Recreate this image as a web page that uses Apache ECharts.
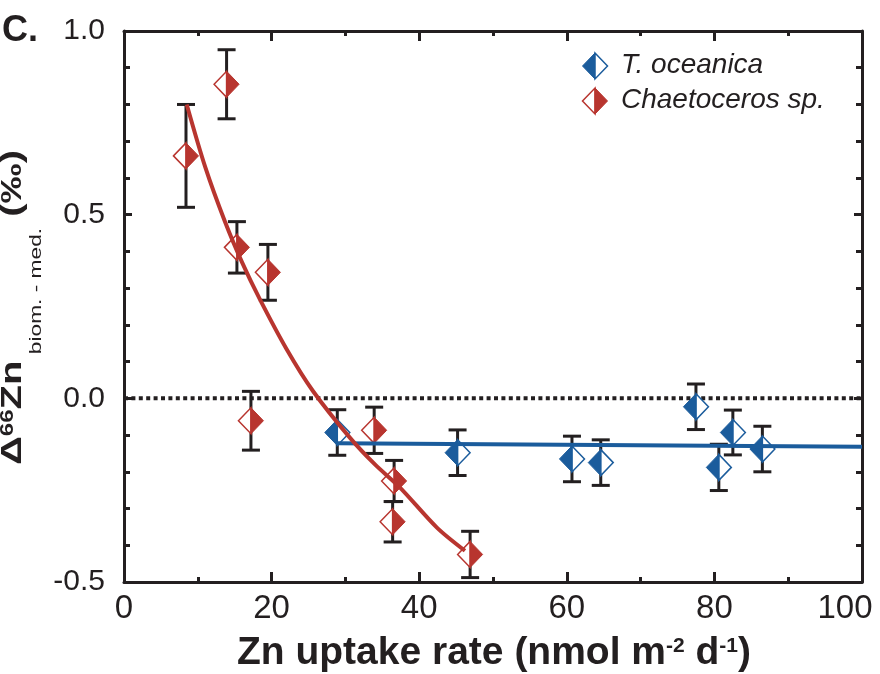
<!DOCTYPE html>
<html><head><meta charset="utf-8">
<script src="https://cdn.jsdelivr.net/npm/echarts@6/dist/echarts.min.js"></script>
<style>html,body{margin:0;padding:0;background:#fff}#c{width:880px;height:674px}</style>
</head><body><div id="c"></div><script>
// ---- data ----
const tOceanicaX   = [28.9, 45.2, 60.7, 64.6, 77.5, 80.6, 82.5, 86.5];
const tOceanicaY   = [-0.093, -0.148, -0.165, -0.175, -0.023, -0.188, -0.093, -0.138];
const tOceanicaErr = [0.062, 0.062, 0.062, 0.062, 0.062, 0.063, 0.061, 0.062];

const chaetX   = [8.4, 13.9, 15.3, 17.2, 19.5, 33.9, 36.6, 36.4, 46.9];
const chaetY   = [0.66, 0.855, 0.411, -0.061, 0.343, -0.087, -0.225, -0.336, -0.425];
const chaetErr = [0.14, 0.094, 0.07, 0.08, 0.076, 0.063, 0.056, 0.055, 0.063];

const chaetFitX = [8.5, 11.0, 13.7, 16.0, 18.4, 22.0, 25.6, 30.6, 34.0, 37.4, 42.4, 46.2];
const chaetFitY = [0.80, 0.63, 0.48, 0.37, 0.27, 0.135, 0.02, -0.107, -0.18, -0.243, -0.352, -0.415];
const tOceanicaFitX = [28.9, 100];
const tOceanicaFitY = [-0.122, -0.132];
const zeroLineX = [0, 100];
const zeroLineY = [0, 0];

const xTicks = [0, 20, 40, 60, 80, 100];
const yTicks = [-0.5, 0.0, 0.5, 1.0];
const seriesNames = ['T. oceanica', 'Chaetoceros sp.'];
const xTitle = '{m|Zn uptake rate (nmol m}{s|-2}{m| d}{s|-1}{m|)}';
const yTitleParts = ['Δ', '66', 'Zn', ' biom. - med.', ' (‰)'];
const panelLabel = 'C.';

// ---- style ----
const INK = '#231f20', BLUE = '#1b5c9c', RED = '#b8352f';
const FAMILY = 'Liberation Sans';
const SANS = '"Liberation Sans", Arial, Helvetica, sans-serif';

const zip = (a, b) => a.map((v, i) => [v, b[i]]);

// y-axis title layout: bold main text, superscript "66", subscript "biom. - med."
const partStyle = [
  { size: 30, weight: 'bold', dy: -10 },
  { size: 18, weight: 'bold', dy: -14.6 },
  { size: 30, weight: 'bold', dy: -10 },
  { size: 17, weight: 'normal', dy: 13.3 },
  { size: 30, weight: 'bold', dy: -10 }
];
const mctx = document.createElement('canvas').getContext('2d');
function textW(t, s) { mctx.font = s.weight + ' ' + s.size + 'px "' + FAMILY + '"'; return mctx.measureText(t).width; }
const partW = yTitleParts.map((t, i) => textW(t, partStyle[i]));
const totalW = partW.reduce((a, b) => a + b, 0);
const yTitleLength = 315;            // length of the title in the reference (stretched)
let acc = -totalW / 2;
const yTitleChildren = yTitleParts.map((t, i) => {
  const s = partStyle[i];
  const el = { type: 'text', x: acc, y: s.dy,
    style: { text: t, fontFamily: SANS, fontSize: s.size, fontWeight: s.weight, fill: INK, align: 'left', verticalAlign: 'middle' } };
  acc += partW[i];
  return el;
});

function diamondSeries(name, xs, ys, color, filledLeft) {
  return {
    type: 'custom', name, z: 4, xAxisIndex: 0, yAxisIndex: 0,
    encode: { x: 0, y: 1 },
    data: zip(xs, ys),
    renderItem: function (params, api) {
      const p = api.coord([api.value(0), api.value(1)]);
      const w = 12.5, h = 13;
      const left = [[p[0] - w, p[1]], [p[0], p[1] - h], [p[0], p[1] + h]];
      const right = [[p[0], p[1] - h], [p[0] + w, p[1]], [p[0], p[1] + h]];
      const filled = filledLeft ? left : right, open = filledLeft ? right : left;
      return { type: 'group', children: [
        { type: 'polygon', shape: { points: open }, style: { fill: '#fff', stroke: color, lineWidth: 1.5 } },
        { type: 'polygon', shape: { points: filled }, style: { fill: color, stroke: color, lineWidth: 1 } }
      ]};
    }
  };
}

function errorSeries(xs, ys, es) {
  return {
    type: 'custom', z: 2, xAxisIndex: 0, yAxisIndex: 0, silent: true,
    encode: { x: 0, y: [1, 2] },
    data: xs.map((x, i) => [x, ys[i] - es[i], ys[i] + es[i]]),
    renderItem: function (params, api) {
      const lo = api.coord([api.value(0), api.value(1)]);
      const hi = api.coord([api.value(0), api.value(2)]);
      const c = 9;
      const st = { stroke: INK, lineWidth: 3 };
      return { type: 'group', children: [
        { type: 'line', shape: { x1: lo[0], y1: lo[1], x2: hi[0], y2: hi[1] }, style: st },
        { type: 'line', shape: { x1: lo[0] - c, y1: lo[1], x2: lo[0] + c, y2: lo[1] }, style: st },
        { type: 'line', shape: { x1: hi[0] - c, y1: hi[1], x2: hi[0] + c, y2: hi[1] }, style: st }
      ]};
    }
  };
}

const axisLineCfg = { show: true, onZero: false, lineStyle: { color: INK, width: 3 } };

function xAx(pos, showLabel) {
  return {
    type: 'value', position: pos, min: 0, max: 100, interval: 20,
    axisLine: axisLineCfg,
    axisTick: { show: true, inside: true, length: 10, lineStyle: { color: INK, width: 3 } },
    minorTick: { show: true, splitNumber: 2, length: 5, lineStyle: { color: INK, width: 3 } },
    splitLine: { show: false },
    axisLabel: { show: showLabel, color: INK, fontFamily: SANS, fontSize: 33, margin: 10,
      formatter: v => !xTicks.includes(v) ? '' : (v === 100 ? '{r|' + v + '}' : String(v)),
      rich: { r: { fontFamily: SANS, fontSize: 33, color: INK, padding: [0, 34, 0, 0] } } }
  };
}

function yAx(pos, showLabel) {
  return {
    type: 'value', position: pos, min: -0.5, max: 1.0, interval: 0.5,
    axisLine: axisLineCfg,
    axisTick: { show: true, inside: true, length: 8, lineStyle: { color: INK, width: 3 } },
    minorTick: { show: true, splitNumber: 5, length: 6, lineStyle: { color: INK, width: 3 } },
    splitLine: { show: false },
    axisLabel: { show: showLabel, color: INK, fontFamily: SANS, fontSize: 30, margin: 19,
      formatter: v => v.toFixed(1) }
  };
}

const chart = echarts.init(document.getElementById('c'), null, { renderer: 'canvas' });
chart.setOption({
  backgroundColor: '#fff',
  animation: false,
  grid: { left: 124, right: 18, top: 31, bottom: 92, containLabel: false, outerBoundsMode: 'none' },
  xAxis: [xAx('bottom', true), xAx('top', false)],
  yAxis: [yAx('left', true), yAx('right', false)],
  graphic: [
    { type: 'text', x: 2, y: 31, style: { text: panelLabel, fontFamily: SANS, fontWeight: 'bold', fontSize: 36, fill: INK, align: 'left', verticalAlign: 'middle' } },
    // y-axis title (rotated; stretched along its length like the reference)
    { type: 'group', x: 23, y: 307.5, rotation: Math.PI / 2, scaleX: yTitleLength / totalW, scaleY: 1,
      children: yTitleChildren },
    // x-axis title
    { type: 'text', x: 494, y: 653, scaleX: 1, scaleY: 1,
      style: { text: xTitle, align: 'center', verticalAlign: 'middle', fill: INK,
        rich: {
          m: { fontFamily: SANS, fontWeight: 'bold', fontSize: 39, fill: INK, lineHeight: 46 },
          s: { fontFamily: SANS, fontWeight: 'bold', fontSize: 21, fill: INK, lineHeight: 46, padding: [0, 0, 13, 0] }
        } } },
    // legend
    { type: 'polygon', shape: { points: [[582.5, 66], [595, 53], [595, 79]] }, style: { fill: BLUE, stroke: BLUE, lineWidth: 1 } },
    { type: 'polygon', shape: { points: [[595, 53], [607.5, 66], [595, 79]] }, style: { fill: '#fff', stroke: BLUE, lineWidth: 1.5 } },
    { type: 'text', left: 621, top: 51, style: { text: seriesNames[0], fontFamily: SANS, fontStyle: 'italic', fontSize: 28, fill: INK } },
    { type: 'polygon', shape: { points: [[582.5, 101], [595, 88], [595, 114]] }, style: { fill: '#fff', stroke: RED, lineWidth: 1.5 } },
    { type: 'polygon', shape: { points: [[595, 88], [607.5, 101], [595, 114]] }, style: { fill: RED, stroke: RED, lineWidth: 1 } },
    { type: 'text', left: 621, top: 86, style: { text: seriesNames[1], fontFamily: SANS, fontStyle: 'italic', fontSize: 28, fill: INK } }
  ],
  series: [
    { type: 'line', data: zip(zeroLineX, zeroLineY), showSymbol: false, silent: true, z: 1,
      lineStyle: { color: INK, width: 4, type: [4, 3.4], cap: 'butt' } },
    errorSeries(tOceanicaX, tOceanicaY, tOceanicaErr),
    errorSeries(chaetX, chaetY, chaetErr),
    diamondSeries(seriesNames[0], tOceanicaX, tOceanicaY, BLUE, true),
    diamondSeries(seriesNames[1], chaetX, chaetY, RED, false),
    { type: 'line', name: 'T. oceanica fit', data: zip(tOceanicaFitX, tOceanicaFitY), showSymbol: false, z: 5,
      lineStyle: { color: BLUE, width: 4 } },
    { type: 'line', name: 'Chaetoceros fit', data: zip(chaetFitX, chaetFitY), showSymbol: false, smooth: 0.3, z: 5,
      lineStyle: { color: RED, width: 4 } }
  ]
});
</script></body></html>
